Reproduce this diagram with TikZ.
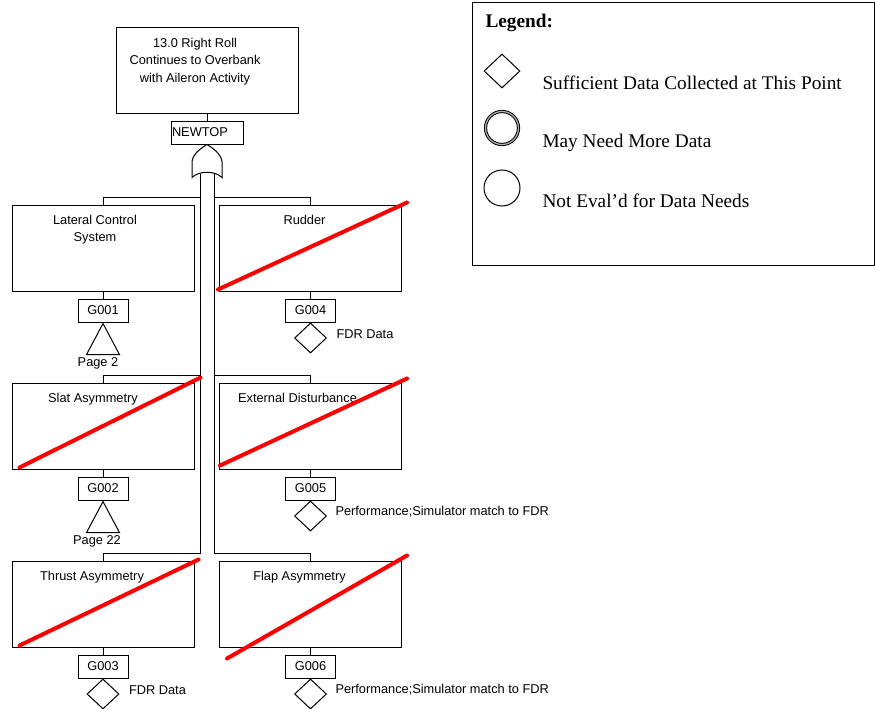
\documentclass[tikz,border=0pt]{standalone}
\usepackage{fontspec}
\setmainfont{Liberation Serif}
\newfontfamily\arialfont{Liberation Sans}
\usepackage{tikz}
\usetikzlibrary{shapes,positioning}

\begin{document}
\begin{tikzpicture}[x=1pt,y=-1pt,line width=1pt]
		\tikzstyle{event}=[rectangle,draw,minimum width=182pt,minimum height=86pt,inner sep=0pt]
		\tikzstyle{etext}=[anchor=north,align=center,inner sep=0pt,font=\arialfont\fontsize{12.8}{17.5}\selectfont]
		\tikzstyle{gate}=[rectangle,draw,minimum width=50pt,minimum height=23pt,inner sep=1pt,font=\arialfont\fontsize{12.8}{15}\selectfont]
		\tikzstyle{transfer}=[isosceles triangle,isosceles triangle apex angle=56,shape border rotate=90,draw,minimum size=31pt,inner sep=0pt,anchor=apex]
		\tikzstyle{enough}=[diamond,draw,minimum width=32pt,minimum height=30pt,inner sep=0pt,anchor=north]
		\tikzstyle{note}=[inner sep=0pt,font=\arialfont\fontsize{12.8}{15}\selectfont]
		\tikzstyle{cut}=[draw=red,line width=4pt,line cap=round]
		\tikzstyle{legtext}=[anchor=base west,inner sep=0pt,font=\fontsize{19.3}{23}\selectfont]
		
		\useasboundingbox (0,0) rectangle (875,709);
		
		% top event and its OR gate
		\node [event,minimum height=85pt] (top) at (207,70.5) {};
		\node [etext] (toptxt) at ([xshift=-12pt,yshift=-10pt]top.north) {13.0 Right Roll\\Continues to Overbank\\with Aileron Activity};
		\node [gate,minimum width=72pt,below=7pt of top] (newtop) {};
		\node [note,anchor=west] (newtoptxt) at ([xshift=1pt]newtop.west) {NEWTOP};
		\draw (top.south) -- (newtop.north);
		\begin{scope}[shift={(newtop.south)}]
			\draw (0,0) .. controls (-5,3) and (-14,9) .. (-15,17) -- (-15,33)
				.. controls (-8,26) and (8,26) .. (15,33) -- (15,17)
				.. controls (14,9) and (5,3) .. (0,0);
			\coordinate (orL) at (-7,29);
			\coordinate (orR) at (7,29);
		\end{scope}
		
		% left column
		\node [event] (lcs) at (103,248) {};
		\node [etext] (lcstxt) at ([xshift=-8pt,yshift=-10pt]lcs.north) {Lateral Control\\System};
		\node [gate,below=7pt of lcs] (g1) {G001};
		\node [transfer] (tr1) at (g1.south) {};
		\node [note,anchor=north] (pg1) at ([xshift=-5pt,yshift=-2pt]tr1.south) {Page 2};
		
		\node [event] (slat) at (103,426) {};
		\node [etext] (slattxt) at ([xshift=-10pt,yshift=-10pt]slat.north) {Slat Asymmetry};
		\node [gate,below=7pt of slat] (g2) {G002};
		\node [transfer] (tr2) at (g2.south) {};
		\node [note,anchor=north] (pg2) at ([xshift=-6pt,yshift=-2pt]tr2.south) {Page 22};
		
		\node [event] (thr) at (103,604) {};
		\node [etext] (thrtxt) at ([xshift=-11pt,yshift=-10pt]thr.north) {Thrust Asymmetry};
		\node [gate,below=7pt of thr] (g3) {G003};
		\node [enough] (d3) at (g3.south) {};
		\node [note,anchor=west] (n3) at ([xshift=9pt,yshift=4pt]d3.east) {FDR Data};
		
		% right column
		\node [event] (rud) at (310.5,248) {};
		\node [etext] (rudtxt) at ([xshift=-6pt,yshift=-10pt]rud.north) {Rudder};
		\node [gate,below=7pt of rud] (g4) {G004};
		\node [enough] (d4) at (g4.south) {};
		\node [note,anchor=west] (n4) at ([xshift=9pt,yshift=4pt]d4.east) {FDR Data};
		
		\node [event] (ext) at (310.5,426) {};
		\node [etext] (exttxt) at ([xshift=-13pt,yshift=-10pt]ext.north) {External Disturbance};
		\node [gate,below=7pt of ext] (g5) {G005};
		\node [enough] (d5) at (g5.south) {};
		\node [note,anchor=west] (n5) at ([xshift=8pt,yshift=4pt]d5.east) {Performance;Simulator match to FDR};
		
		\node [event] (flap) at (310.5,604) {};
		\node [etext] (flaptxt) at ([xshift=-11pt,yshift=-10pt]flap.north) {Flap Asymmetry};
		\node [gate,below=7pt of flap] (g6) {G006};
		\node [enough] (d6) at (g6.south) {};
		\node [note,anchor=west] (n6) at ([xshift=8pt,yshift=4pt]d6.east) {Performance;Simulator match to FDR};
		
		\foreach \a/\b in {lcs/g1,slat/g2,thr/g3,rud/g4,ext/g5,flap/g6}
			\draw (\a.south) -- (\b.north);
		
		% double bus out of the gate
		\coordinate (bL1) at (200,197);
		\coordinate (bL2) at (200,375);
		\coordinate (bL3) at (200,553);
		\coordinate (bR1) at (214,197);
		\coordinate (bR2) at (214,375);
		\coordinate (bR3) at (214,553);
		\draw (orL) -- (bL3) -| (thr.north);
		\draw (bL1) -| (lcs.north);
		\draw (bL2) -| (slat.north);
		\draw (orR) -- (bR3) -| (flap.north);
		\draw (bR1) -| (rud.north);
		\draw (bR2) -| (ext.north);
		
		% struck-out events
		\draw [cut] ([shift={(-1,-2)}]rud.south west) -- ([shift={(5,-2)}]rud.north east);
		\draw [cut] ([shift={(8,-2)}]slat.south west) -- ([shift={(6,-5)}]slat.north east);
		\draw [cut] ([shift={(1,-4)}]ext.south west) -- ([shift={(5,-4)}]ext.north east);
		\draw [cut] ([shift={(8,-2)}]thr.south west) -- ([shift={(4,-1)}]thr.north east);
		\draw [cut] ([shift={(8,11)}]flap.south west) -- ([shift={(5,-5)}]flap.north east);
		
		% legend
		\node [draw,minimum width=402pt,minimum height=262pt,inner sep=0pt] (legend) at (673,134) {};
		\node [legtext,font=\bfseries\fontsize{19.3}{23}\selectfont] (legtitle) at (485,28) {Legend:};
		\node [diamond,draw,minimum width=36pt,minimum height=34pt,inner sep=0pt] (lsym1) at (502,71) {};
		\node [legtext] (ltxt1) at (542,89) {Sufficient Data Collected at This Point};
		\node [circle,draw,double=gray!60,double distance=1.2pt,line width=1pt,minimum size=33pt,inner sep=0pt] (lsym2) at (502,128) {};
		\node [legtext] (ltxt2) at (542,147) {May Need More Data};
		\node [circle,draw,minimum size=36pt,inner sep=0pt] (lsym3) at (502,188) {};
		\node [legtext] (ltxt3) at (542,207) {Not Eval’d for Data Needs};
\end{tikzpicture}
\end{document}
